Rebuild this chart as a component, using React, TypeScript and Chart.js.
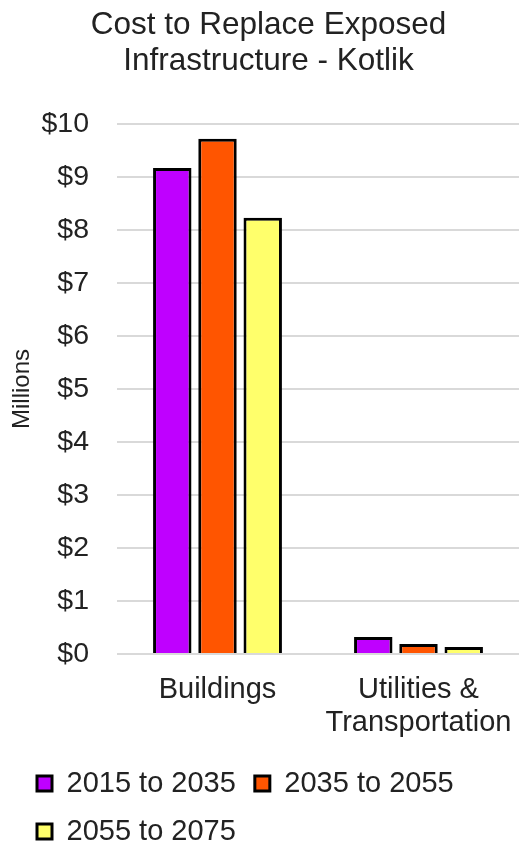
import React, { useEffect, useRef } from "react";
import { Chart, registerables } from "chart.js";

Chart.register(...registerables);

const categories: (string | string[])[] = ["Buildings", ["Utilities &", "Transportation"]];
const seriesNames = ["2015 to 2035", "2035 to 2055", "2055 to 2075"];
const values2015to2035 = [9.17, 0.32];
const values2035to2055 = [9.72, 0.19];
const values2055to2075 = [8.23, 0.13];
const seriesColors = ["#BF00FF", "#FF5500", "#FFFF6B"];
const yTicks = [0, 1, 2, 3, 4, 5, 6, 7, 8, 9, 10];
const titleLines = ["Cost to Replace Exposed", "Infrastructure - Kotlik"];
const yAxisTitle = "Millions";

const FONT = "'Liberation Sans', Arial, Helvetica, sans-serif";
const TEXT = "#222222";

export default function App() {
  const ref = useRef<HTMLCanvasElement | null>(null);

  useEffect(() => {
    document.body.style.margin = "0";
    const canvas = ref.current;
    if (!canvas) return;
    const seriesValues = [values2015to2035, values2035to2055, values2055to2075];
    const chart = new Chart(canvas, {
      type: "bar",
      data: {
        labels: categories,
        datasets: seriesNames.map((name, i) => ({
          label: name,
          data: seriesValues[i],
          backgroundColor: seriesColors[i],
          borderColor: "#000000",
          borderWidth: 3,
          categoryPercentage: 0.675,
          barPercentage: 0.85,
        })),
      },
      options: {
        responsive: false,
        animation: false,
        layout: { padding: { left: 18, right: 1, top: 0, bottom: -4 } },
        plugins: {
          title: {
            display: true,
            text: titleLines,
            color: TEXT,
            font: { family: FONT, size: 31.5, weight: "normal", lineHeight: 1.15 },
            padding: { top: 7, bottom: 44.5 },
          },
          legend: {
            display: true,
            position: "bottom",
            align: "start",
            labels: {
              color: TEXT,
              font: { family: FONT, size: 29 },
              boxWidth: 15,
              boxHeight: 15,
              padding: 19,
            },
          },
          tooltip: { enabled: false },
        },
        scales: {
          x: {
            grid: { display: false, drawTicks: false },
            border: { display: false },
            ticks: {
              color: TEXT,
              font: { family: FONT, size: 29, lineHeight: 1.15 },
              padding: 19,
              maxRotation: 0,
              autoSkip: false,
            },
            afterFit: (scale: any) => {
              scale.height = 96;
              scale.paddingLeft = 0;
              scale.paddingRight = 0;
            },
          },
          y: {
            min: 0,
            max: 10,
            afterBuildTicks: (scale: any) => {
              scale.ticks = yTicks.map((v) => ({ value: v }));
            },
            afterFit: (scale: any) => {
              scale.width = 99;
            },
            grid: { color: "#D9D9D9", lineWidth: 2, drawTicks: false },
            border: { display: false },
            ticks: {
              color: TEXT,
              font: { family: FONT, size: 28.5 },
              padding: 28,
              callback: (v: any) => "$" + v,
            },
            title: {
              display: true,
              text: yAxisTitle,
              color: TEXT,
              font: { family: FONT, size: 24, lineHeight: 0.4 },
              padding: { top: 0, bottom: 0 },
            },
          },
        },
      },
    });
    return () => chart.destroy();
  }, []);

  return (
    <div style={{ width: 520, height: 852 }}>
      <canvas ref={ref} width={520} height={852} style={{ display: "block" }} />
    </div>
  );
}
